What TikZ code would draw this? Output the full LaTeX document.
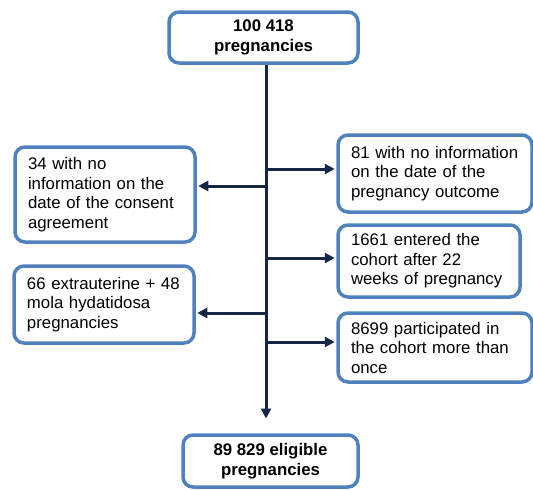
\documentclass[tikz,border=0pt]{standalone}
\usepackage{fontspec}
\setmainfont{Liberation Sans}
\usetikzlibrary{arrows.meta}
\definecolor{boxblue}{RGB}{79,129,189}
\definecolor{flownavy}{RGB}{20,38,70}

\begin{document}
\begin{tikzpicture}[x=1pt,y=-1pt,>={Triangle[length=10pt,width=10pt]},
    every node/.style={font=\fontsize{16.8}{19.5}\selectfont},
    box/.style={draw=boxblue,line width=3.5pt,rounded corners=10pt,fill=white,inner xsep=13pt,align=left},
    endbox/.style={box,align=center,font=\fontsize{16.8}{19.5}\selectfont\bfseries},
    flow/.style={draw=flownavy,line width=3pt,shorten >=1.5pt}]
    \useasboundingbox (0,0) rectangle (533,490);

    \node[endbox,minimum width=189pt,minimum height=51pt] (s) at (263.5,37.5) {100 418\\pregnancies};
    \node[endbox,minimum width=175pt,minimum height=52pt] (f) at (270.5,461) {89 829 eligible\\pregnancies};

    \node[box,text width=154pt,minimum height=95pt] (l1) at (105,194.5) {34 with no\\information on the\\date of the consent\\agreement};
    \node[box,text width=154pt,minimum height=77pt] (l2) at (104,304.5) {66 extrauterine + 48\\mola hydatidosa\\pregnancies};

    \node[box,text width=168pt,minimum height=77pt] (r1) at (435,173.5) {81 with no information\\on the date of the\\pregnancy outcome};
    \node[box,text width=156pt,minimum height=72pt] (r2) at (429,261) {1661 entered the\\cohort after 22\\weeks of pregnancy};
    \node[box,text width=168pt,minimum height=69pt] (r3) at (435,347.5) {8699 participated in\\the cohort more than\\once};

    \coordinate (e) at (266,420);
    \coordinate (k1) at (266,169);
    \coordinate (k2) at (266,186);
    \coordinate (k3) at (266,258);
    \coordinate (k4) at (266,313);
    \coordinate (k5) at (266,342);

    \draw[flow,->] (s.south -| e) -- (e);
    \draw[flow,->] (k1) -- (r1.west |- k1);
    \draw[flow,->] (k2) -- (l1.east |- k2);
    \draw[flow,->] (k3) -- (r2.west |- k3);
    \draw[flow,->] (k4) -- (l2.east |- k4);
    \draw[flow,->] (k5) -- (r3.west |- k5);
\end{tikzpicture}
\end{document}
